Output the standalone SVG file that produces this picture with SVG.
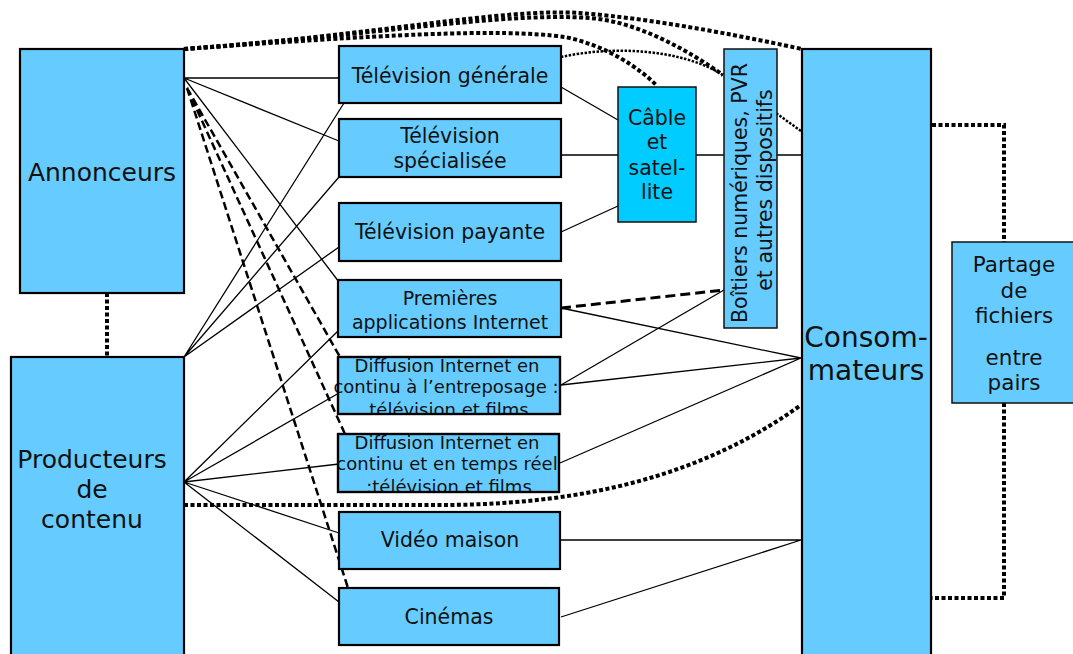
<svg xmlns="http://www.w3.org/2000/svg" width="1073" height="654" viewBox="0 0 1073 654">
  <defs>
    <style>
      .box { fill: #66CCFF; stroke: #000; stroke-width: 2.2; }
      .box-thin { fill: #66CCFF; stroke: #111; stroke-width: 1.5; }
      .box-cable { fill: #00CCFF; stroke: #111; stroke-width: 1.5; }
      .line { fill: none; stroke: #000; stroke-width: 1.3; }
      .dash { fill: none; stroke: #000; stroke-width: 2.5; stroke-dasharray: 8 4; }
      .dash-bold { fill: none; stroke: #000; stroke-width: 3; stroke-dasharray: 10 5; }
      .dot { fill: none; stroke: #000; stroke-width: 4; stroke-dasharray: 4 2.5; }
      .dot-thin { fill: none; stroke: #000; stroke-width: 2.5; stroke-dasharray: 2.5 1.5; }
      text { font-family: "DejaVu Sans", Verdana, sans-serif; fill: #111; text-anchor: middle; }
      .t25 { font-size: 25px; }
      .t28 { font-size: 28px; }
      .t21 { font-size: 21.5px; }
      .t20 { font-size: 20.5px; }
      .t19 { font-size: 19px; }
      .t18 { font-size: 18px; }
    </style>
    <clipPath id="clip-diff1"><rect x="330" y="357" width="240" height="57"/></clipPath>
    <clipPath id="clip-diff2"><rect x="330" y="434" width="240" height="58"/></clipPath>
  </defs>

  <g id="connectors">
    <!-- dotted links along the top -->
    <path class="dot" d="M184,49 C380,35 500,8 580,13 C660,19 760,40 802,49"/>
    <path class="dot" d="M184,49 C380,35 500,12 590,18 C640,22 690,52 723,75"/>
    <path class="dot" d="M184,49 C380,35 500,28 565,37 C605,45 640,68 657,86"/>
    <path class="dot-thin" d="M561,57 C610,46 680,48 723,75 L801,131"/>
    <!-- annonceurs / producteurs -->
    <path class="dot" d="M107,293 L107,357"/>
    <!-- producteurs to consommateurs -->
    <path class="dot" d="M184,505 L440,505 C560,505 690,485 801,405"/>
    <!-- peer-to-peer loop -->
    <path class="dot" d="M932,125 L1004,125 L1004,242 M1004,403 L1004,598 L932,598"/>

    <!-- from annonceurs -->
    <path class="line" d="M184,78 L339,78 M184,78 L339,141 M184,78 L339,282"/>
    <path class="dash" d="M187,88 L340,357 M187,88 L345,434 M187,88 L348,588"/>

    <!-- from producteurs (top corner) -->
    <path class="line" d="M184,357 L344,103 M184,357 L339,177 M184,357 L339,247"/>
    <!-- from producteurs (side) -->
    <path class="line" d="M184,482 L339,330 M184,482 L339,393 M184,482 L339,464 M184,482 L339,533 M184,482 L339,602"/>

    <!-- television to cable -->
    <path class="line" d="M561,87 L618,120 M561,155 L618,155 M561,232 L618,206"/>
    <path class="line" d="M696,155 L801,155"/>

    <!-- internet services -->
    <path class="dash-bold" d="M561,308 L724,290"/>
    <path class="line" d="M561,385 L724,290"/>
    <path class="line" d="M561,308 L801,358 M561,385 L801,358 M560,463 L801,358"/>
    <path class="line" d="M561,540 L801,540 M561,617 L801,540"/>
  </g>

  <g id="annonceurs">
    <rect class="box" x="20" y="49" width="164" height="244"/>
    <text class="t25" x="102" y="181">Annonceurs</text>
  </g>

  <g id="producteurs">
    <rect class="box" x="11" y="357" width="173" height="310"/>
    <text class="t25" x="92" y="468">Producteurs</text>
    <text class="t25" x="92" y="498">de</text>
    <text class="t25" x="92" y="528">contenu</text>
  </g>

  <g id="tv-generale">
    <rect class="box" x="339" y="46" width="222" height="57"/>
    <text class="t20" x="450" y="83">Télévision générale</text>
  </g>

  <g id="tv-specialisee">
    <rect class="box" x="339" y="119" width="222" height="58"/>
    <text class="t20" x="450" y="143">Télévision</text>
    <text class="t20" x="450" y="168">spécialisée</text>
  </g>

  <g id="tv-payante">
    <rect class="box" x="339" y="203" width="222" height="58"/>
    <text class="t20" x="450" y="239">Télévision payante</text>
  </g>

  <g id="premieres-applications">
    <rect class="box" x="338" y="280" width="223" height="57"/>
    <text class="t19" x="450" y="305">Premières</text>
    <text class="t19" x="450" y="329">applications Internet</text>
  </g>

  <g id="diffusion-entreposage">
    <rect class="box" x="338" y="357" width="222" height="57"/>
    <g clip-path="url(#clip-diff1)">
      <text class="t18" x="447" y="372">Diffusion Internet en</text>
      <text class="t18" x="446" y="393">continu à l’entreposage :</text>
      <text class="t18" x="449" y="416">télévision et films</text>
    </g>
    <rect x="338" y="357" width="222" height="57" fill="none" stroke="#000" stroke-width="2.2"/>
  </g>

  <g id="diffusion-temps-reel">
    <rect class="box" x="338" y="434" width="221" height="58"/>
    <g clip-path="url(#clip-diff2)">
      <text class="t18" x="447" y="449">Diffusion Internet en</text>
      <text class="t18" x="447" y="470">continu et en temps réel</text>
      <text class="t18" x="449" y="493">:télévision et films</text>
    </g>
    <rect x="338" y="434" width="221" height="58" fill="none" stroke="#000" stroke-width="2.2"/>
  </g>

  <g id="video-maison">
    <rect class="box" x="339" y="512" width="221" height="57"/>
    <text class="t20" x="450" y="547">Vidéo maison</text>
  </g>

  <g id="cinemas">
    <rect class="box" x="339" y="588" width="220" height="57"/>
    <text class="t20" x="449" y="624">Cinémas</text>
  </g>

  <g id="cable-satellite">
    <rect class="box-cable" x="618" y="87" width="78" height="135"/>
    <text class="t20" x="657" y="125">Câble</text>
    <text class="t20" x="657" y="149">et</text>
    <text class="t20" x="657" y="175">satel-</text>
    <text class="t20" x="657" y="199">lite</text>
  </g>

  <g id="boitiers">
    <rect class="box-thin" x="724" y="49" width="53" height="279"/>
    <text class="t20" transform="translate(747,193) rotate(-90)">Boîtiers numériques, PVR</text>
    <text class="t20" transform="translate(772,190) rotate(-90)">et autres dispositifs</text>
  </g>

  <g id="consommateurs">
    <rect class="box" x="802" y="49" width="129" height="620"/>
    <text class="t28" x="866" y="347">Consom-</text>
    <text class="t28" x="866" y="380">mateurs</text>
  </g>

  <g id="partage">
    <rect class="box-thin" x="952" y="242" width="125" height="161"/>
    <text class="t21" x="1014" y="272">Partage</text>
    <text class="t21" x="1014" y="298">de</text>
    <text class="t21" x="1014" y="323">fichiers</text>
    <text class="t21" x="1014" y="365">entre</text>
    <text class="t21" x="1014" y="390">pairs</text>
  </g>
</svg>
